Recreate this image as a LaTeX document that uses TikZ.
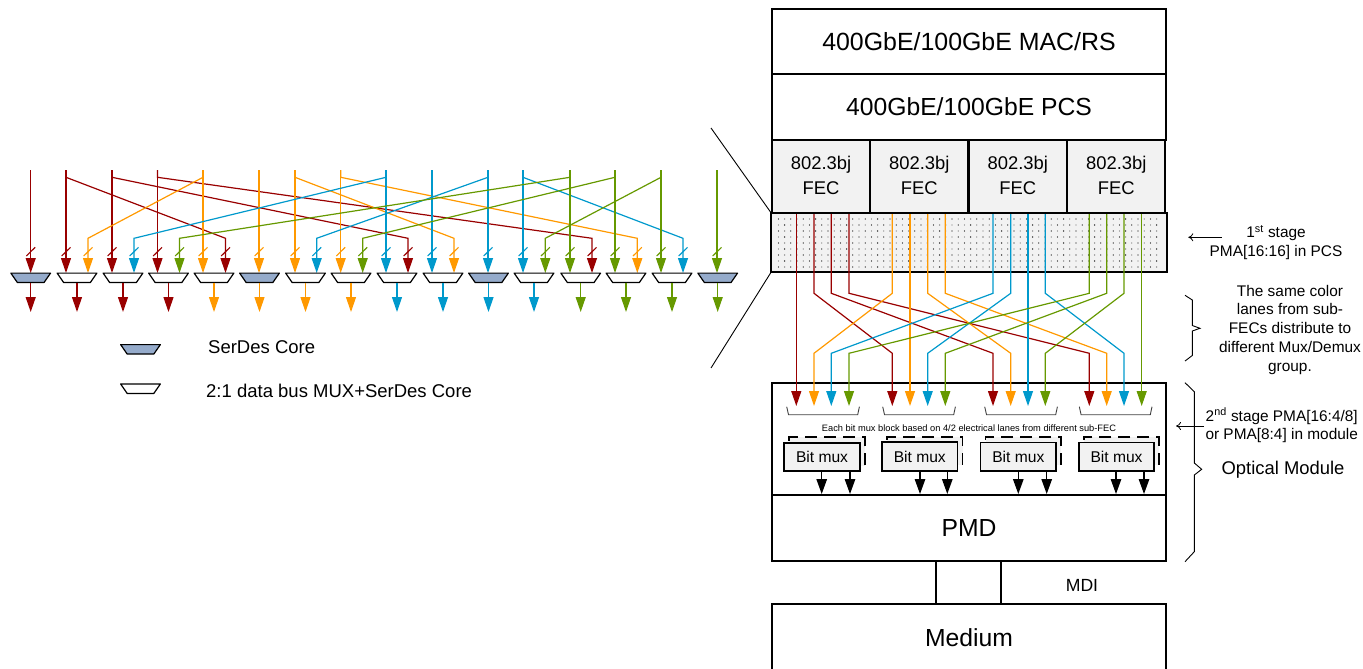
\documentclass[tikz,border=0pt]{standalone}
\usepackage{fontspec}
\setmainfont{Liberation Sans}
\usetikzlibrary{arrows.meta}
\definecolor{cred}{HTML}{990000}
\definecolor{corange}{HTML}{FF9900}
\definecolor{cblue}{HTML}{0099CC}
\definecolor{cgreen}{HTML}{669900}
\definecolor{serdes}{HTML}{95ABCB}
\definecolor{cellgray}{HTML}{F2F2F2}
\tikzset{
  laneline/.style={line width=1.2pt,draw=#1,-{Triangle[width=10pt,length=15pt,fill=#1]}},
  tickline/.style={line width=1.1pt,draw=#1},
  trapbase/.style={minimum width=39.3pt,minimum height=9pt,inner sep=0pt},
  trapline/.style={draw=black,line width=1.2pt,line join=round,fill=#1},
  stackbox/.style={draw=black,line width=1.8pt,inner sep=0pt,align=center,font=\fontsize{24.7}{28}\selectfont},
  feccell/.style={stackbox,fill=cellgray,minimum width=98pt,minimum height=73.5pt},
  fectext/.style={inner sep=0pt,align=center,font=\fontsize{18.4}{25}\selectfont},
  muxbox/.style={draw=black,line width=1.6pt,fill=cellgray,minimum width=75.5pt,minimum height=28.5pt,inner sep=0pt,font=\fontsize{15.6}{18}\selectfont},
  muxback/.style={draw=black,line width=1.6pt,fill=cellgray,dash pattern=on 12pt off 7pt,minimum width=75.5pt,minimum height=28.5pt,inner sep=0pt},
  blackarrow/.style={line width=1.3pt,draw=black,-{Triangle[width=10.5pt,length=15pt,fill=black]}},
  thinline/.style={line width=.9pt,draw=black},
  brk/.style={line width=.9pt,draw=black!75},
  openarrow/.style={line width=.8pt,draw=black,-{To[length=5pt,width=8pt]}},
  note/.style={inner sep=0pt,align=center,font=\fontsize{15.4}{18.7}\selectfont},
}
\newcommand{\trapfig}[2]{\draw[trapline=#2] (#1.north west) -- (#1.north east) -- ([xshift=-6.5pt]#1.south east) -- ([xshift=6.5pt]#1.south west) -- cycle;}
\begin{document}
\begin{tikzpicture}[x=1pt,y=-1pt]
\useasboundingbox (0,0) rectangle (1363,669);
\clip (0,0) rectangle (1363,669);
% ---- left fan-out
\coordinate (bt) at (0,177.3);
\coordinate (bb) at (0,238.3);
\foreach \x [count=\i] in {30.7,66,112,157.5,203,259,295,340.7,386,432,488,523,570,615,661,717}
  \coordinate (T\i) at (\x,170);
\foreach \x [count=\i] in {30.7,66,88,112,134,157.5,179.5,203,225.5,259,295,316.7,340.7,362.7,386,408,432,454,488,523,545.3,570,592,615,637.3,661,683,717}
  \coordinate (I\i) at (\x,273);
\foreach \a/\b/\c in {1/1/cred,2/2/cred,2/9/cred,3/4/cred,3/16/cred,4/6/cred,4/23/cred,
  5/8/corange,5/3/corange,6/10/corange,7/11/corange,7/18/corange,8/13/corange,8/25/corange,
  9/15/cblue,9/5/cblue,10/17/cblue,11/19/cblue,11/12/cblue,12/20/cblue,12/27/cblue,
  13/22/cgreen,13/7/cgreen,14/24/cgreen,14/14/cgreen,15/26/cgreen,15/21/cgreen,16/28/cgreen}{
  \draw[laneline=\c] (T\a) -- (T\a |- bt) -- (I\b |- bb) -- (I\b);
  \draw[tickline=\c] ([shift={(-4.3,-17)}]I\b) -- ([shift={(4.5,-25.7)}]I\b);
}
\foreach \x/\f/\c [count=\i] in {30.7/serdes/cred,77/white/cred,123/white/cred,168.5/white/cred,
  214/white/corange,259.5/serdes/corange,305.5/white/corange,351/white/corange,
  397/white/cblue,443/white/cblue,488.5/serdes/cblue,534/white/cblue,
  580.7/white/cgreen,626/white/cgreen,672/white/cgreen,717.7/serdes/cgreen}{
  \node[trapbase] (M\i) at (\x,277.8) {};
  \trapfig{M\i}{\f}
  \coordinate (O\i) at (\x,312);
  \draw[laneline=\c] (M\i.south) -- (O\i);
}
% ---- legend
\node[trapbase] (lega) at (140.5,349.3) {};
\trapfig{lega}{serdes}
\node[trapbase] (legb) at (140.5,388.7) {};
\trapfig{legb}{white}
\node[anchor=west,inner sep=0pt,font=\fontsize{18.5}{20}\selectfont] (lta) at (208,347) {SerDes Core};
\node[anchor=west,inner sep=0pt,font=\fontsize{18.5}{20}\selectfont] (ltb) at (206,391) {2:1 data bus MUX+SerDes Core};
% ---- right stack
\node[stackbox,minimum width=394pt,minimum height=65pt,font=\fontsize{24.9}{28}\selectfont] (mac) at (969,41.5) {400GbE/100GbE MAC/RS};
\node[stackbox,minimum width=394pt,minimum height=66pt] (pcs) at (969,107) {400GbE/100GbE PCS};
\foreach \x [count=\i] in {821,919.3,1017.8,1116.3}{
  \node[feccell] (f\i) at (\x,177) {};
  \node[fectext] (ft\i) at (\x,175.3) {802.3bj\\FEC};
}
\node[stackbox,draw=none,fill=cellgray,minimum width=394pt,minimum height=57.5pt] (pma) at (969,242.5) {};
\foreach \r in {0,...,8}{
  \pgfmathsetmacro{\yy}{219+6*\r}
  \foreach \k in {0,...,61}{
    \pgfmathsetmacro{\xx}{778.4+6.2*\k}
    \pgfmathsetmacro{\dk}{mod(\k+\r,2)==0 ? 100 : 55}
    \fill[black!\dk] (\xx,\yy) circle (.65pt);
  }
}
\draw[line width=1.8pt] (pma.north west) rectangle (pma.south east);
\coordinate (dga) at (711,128);
\coordinate (dgb) at (711,368);
\draw[thinline] (dga) -- (pma.north west);
\draw[thinline] (dgb) -- (pma.south west);
\node[stackbox,minimum width=394pt,minimum height=112pt] (modbox) at (969,439.3) {};
\node[stackbox,minimum width=394pt,minimum height=66pt] (pmd) at (969,528) {PMD};
\node[stackbox,minimum width=394pt,minimum height=66.5pt] (med) at (969,637.25) {Medium};
\coordinate (mdia) at (936,561);
\coordinate (mdib) at (1001,561);
\draw[line width=1.5pt] (mdia) -- (mdia |- med.north);
\draw[line width=1.5pt] (mdib) -- (mdib |- med.north);
\node[inner sep=0pt,font=\fontsize{17.6}{20}\selectfont] (mdi) at (1082,585) {MDI};
% ---- lanes PCS to module
\coordinate (ct) at (0,293.3);
\coordinate (cb) at (0,353.3);
\foreach \x [count=\i] in {796.3,814,831.3,849,892.3,910,927.7,945.3,993,1010.7,1028,1045.3,1089.3,1106.7,1124,1141.7}{
  \coordinate (U\i) at (\x,214);
  \coordinate (V\i) at (\x,406);
}
\foreach \a/\b/\c in {1/1/cred,2/5/cred,3/9/cred,4/13/cred,
  5/2/corange,6/6/corange,7/10/corange,8/14/corange,
  9/3/cblue,10/7/cblue,11/11/cblue,12/15/cblue,
  13/4/cgreen,14/8/cgreen,15/12/cgreen,16/16/cgreen}
  \draw[laneline=\c] (U\a) -- (U\a |- ct) -- (V\b |- cb) -- (V\b);
% ---- brackets under lanes
\foreach \x in {786.7,882.7,984.7,1079.3}
  \draw[brk] (\x,406.7) -- (\x+1.8,414.7) -- (\x+71,414.7) -- (\x+72.7,406.7);
\node[inner sep=0pt,font=\fontsize{9.27}{10}\selectfont] (each) at (969,427.7) {Each bit mux block based on 4/2 electrical lanes from different sub-FEC};
% ---- bit mux blocks
\foreach \x/\y/\p/\q [count=\i] in {822/457/821.7/850,919.8/456.5/920/947.3,1018.3/456.7/1018.3/1046.7,1116.5/456.7/1116/1144}{
  \node[muxback] (bk\i) at (\x+5,\y-5.5) {};
  \node[muxbox] (bm\i) at (\x,\y) {Bit mux};
  \coordinate (pa\i) at (\p,494);
  \coordinate (pb\i) at (\q,494);
  \draw[blackarrow] (pa\i |- bm\i.south) -- (pa\i);
  \draw[blackarrow] (pb\i |- bm\i.south) -- (pb\i);
}
% ---- annotations
\coordinate (na) at (1221.7,237.3);
\coordinate (nb) at (1188.3,237.3);
\draw[openarrow] (na) -- (nb);
\node[note] (n1) at (1276,242.5) {1\textsuperscript{st} stage\\PMA[16:16] in PCS};
\draw[brk,draw=black] (1185,295.3) -- (1192.3,300) -- (1192.3,325.5) -- (1200,328.3) -- (1192.3,331) -- (1192.3,355.5) -- (1185,361);
\node[note] (n2) at (1290,329.7) {The same color\\lanes from sub-\\FECs distribute to\\different Mux/Demux\\group.};
\coordinate (nc) at (1204,426);
\coordinate (nd) at (1176,426);
\draw[openarrow] (nc) -- (nd);
\draw[brk,draw=black] (1185,382.7) -- (1194.3,391.7) -- (1194.3,463) -- (1201.7,469.3) -- (1194.3,475) -- (1194.3,551.7) -- (1185,561.7);
\node[note] (n3) at (1281.7,425.5) {2\textsuperscript{nd} stage PMA[16:4/8]\\or PMA[8:4] in module};
\node[inner sep=0pt,font=\fontsize{18.4}{20}\selectfont] (n4) at (1283,470) {Optical Module};
\end{tikzpicture}
\end{document}
